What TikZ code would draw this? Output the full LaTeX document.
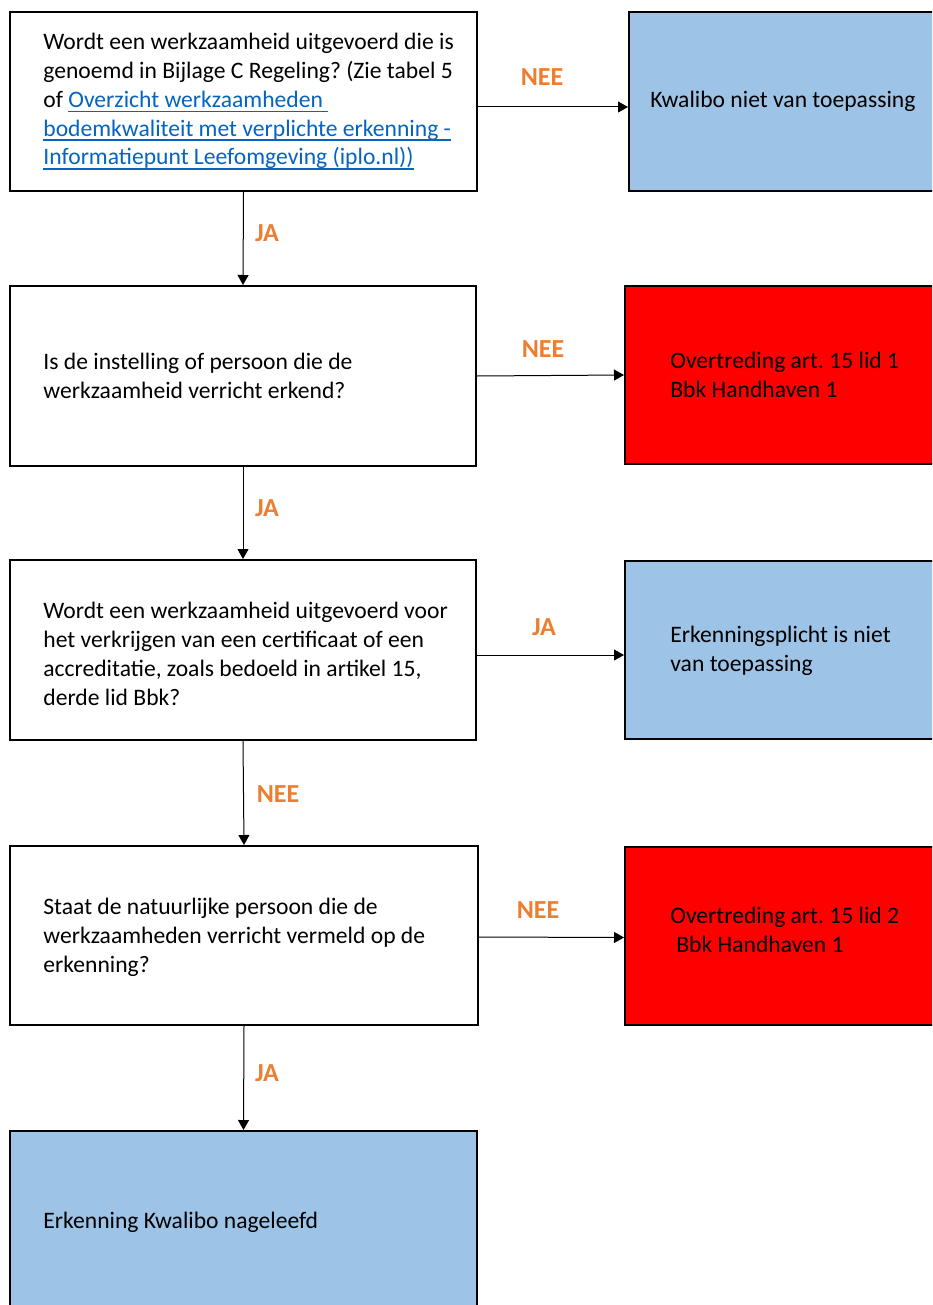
\documentclass[tikz,border=0pt]{standalone}
\usepackage{fontspec}
\setmainfont{Carlito}
\usetikzlibrary{arrows.meta,calc}
\definecolor{lichtblauw}{HTML}{9DC3E6}
\definecolor{rood}{HTML}{FF0000}
\definecolor{oranje}{HTML}{ED7D31}
\definecolor{linkblauw}{HTML}{0563C1}
\newdimen\px \px=0.5pt
\newsavebox\lnkbox
\newcommand{\lnk}[1]{\textcolor{linkblauw}{\sbox\lnkbox{#1}\rlap{\rule[-2.3pt]{\wd\lnkbox}{0.7pt}}\usebox\lnkbox}}
\frenchspacing
\begin{document}
\begin{tikzpicture}[x=1\px, y=-1\px, >={Triangle[length=5pt,width=5.5pt]}, line join=miter,
	vak/.style={draw, line width=1pt, anchor=north west, inner sep=0pt},
	tekst/.style={anchor=west, align=left, inner sep=0pt, font=\fontsize{11.8pt}{14.4pt}\selectfont},
	antw/.style={text=oranje, inner sep=0pt, font=\fontsize{13pt}{15pt}\selectfont\bfseries},
	pijl/.style={->, line width=0.5pt}]
	\clip (0,0) rectangle (932,1305);
	% vragen links
	\node[vak, minimum width=467\px, minimum height=179\px] (q1) at (9,11) {};
	\node[vak, minimum width=466\px, minimum height=180\px] (q2) at (9,285) {};
	\node[vak, minimum width=466\px, minimum height=180\px] (q3) at (9,559) {};
	\node[vak, minimum width=468\px, minimum height=179\px] (q4) at (9,845) {};
	\node[vak, fill=lichtblauw, minimum width=467\px, minimum height=182\px] (e5) at (9,1130) {};
	% uitkomsten rechts
	\node[vak, fill=lichtblauw, minimum width=320\px, minimum height=179\px] (k1) at (628,11) {};
	\node[vak, fill=rood, minimum width=324\px, minimum height=178\px] (r2) at (624,285) {};
	\node[vak, fill=lichtblauw, minimum width=324\px, minimum height=178\px] (k3) at (624,560) {};
	\node[vak, fill=rood, minimum width=324\px, minimum height=178\px] (r4) at (624,846) {};
	% teksten
	\node[tekst] (q1t) at ($(q1.west)+(34,0)$) {Wordt een werkzaamheid uitgevoerd die is\\
		genoemd in Bijlage C Regeling? (Zie tabel 5\\
		of \lnk{Overzicht werkzaamheden\ }\\
		\lnk{bodemkwaliteit met verplichte erkenning -}\\
		\lnk{Informatiepunt Leefomgeving (iplo.nl))}};
	\node[tekst] (q2t) at ($(q2.west)+(34,0)$) {Is de instelling of persoon die de\\ werkzaamheid verricht erkend?};
	\node[tekst] (q3t) at ($(q3.west)+(34,4)$) {Wordt een werkzaamheid uitgevoerd voor\\
		het verkrijgen van een certificaat of een\\
		accreditatie, zoals bedoeld in artikel 15,\\
		derde lid Bbk?};
	\node[tekst] (q4t) at ($(q4.west)+(34,2)$) {Staat de natuurlijke persoon die de\\ werkzaamheden verricht vermeld op de\\ erkenning?};
	\node[tekst] (e5t) at ($(e5.west)+(34,0)$) {Erkenning Kwalibo nageleefd};
	\node[tekst] (k1t) at ($(k1.west)+(22,0)$) {Kwalibo niet van toepassing};
	\node[tekst] (r2t) at ($(r2.west)+(46,0)$) {Overtreding art. 15 lid 1\\ Bbk Handhaven 1};
	\node[tekst] (k3t) at ($(k3.west)+(46,1)$) {Erkenningsplicht is niet\\ van toepassing};
	\node[tekst] (r4t) at ($(r4.west)+(46,-6)$) {Overtreding art. 15 lid 2\\ \hspace*{3pt}Bbk Handhaven 1};
	% pijlen
	\draw[pijl] ([yshift=-2.75pt]q1.east) -- ([yshift=-2.75pt]k1.west);
	\draw[pijl] (q2.east) -- (r2.west);
	\draw[pijl] ([yshift=-2.5pt]q3.east) -- ([yshift=-2.5pt]k3.west);
	\draw[pijl] ([yshift=-0.75pt]q4.east) -- ([yshift=-0.75pt]r4.west);
	\draw[pijl] (q1.south) -- (q2.north);
	\draw[pijl] (q2.south) -- (q3.north);
	\draw[pijl] (q3.south) -- (q4.north);
	\draw[pijl] (q4.south) -- (e5.north);
	% antwoorden
	\foreach \w/\x/\y [count=\i] in {NEE/542/77, JA/267/233, NEE/543/349, JA/267/508, JA/544/627, NEE/278/794, NEE/538/910, JA/267/1073}
		\node[antw] (a\i) at (\x,\y) {\w};
\end{tikzpicture}
\end{document}
